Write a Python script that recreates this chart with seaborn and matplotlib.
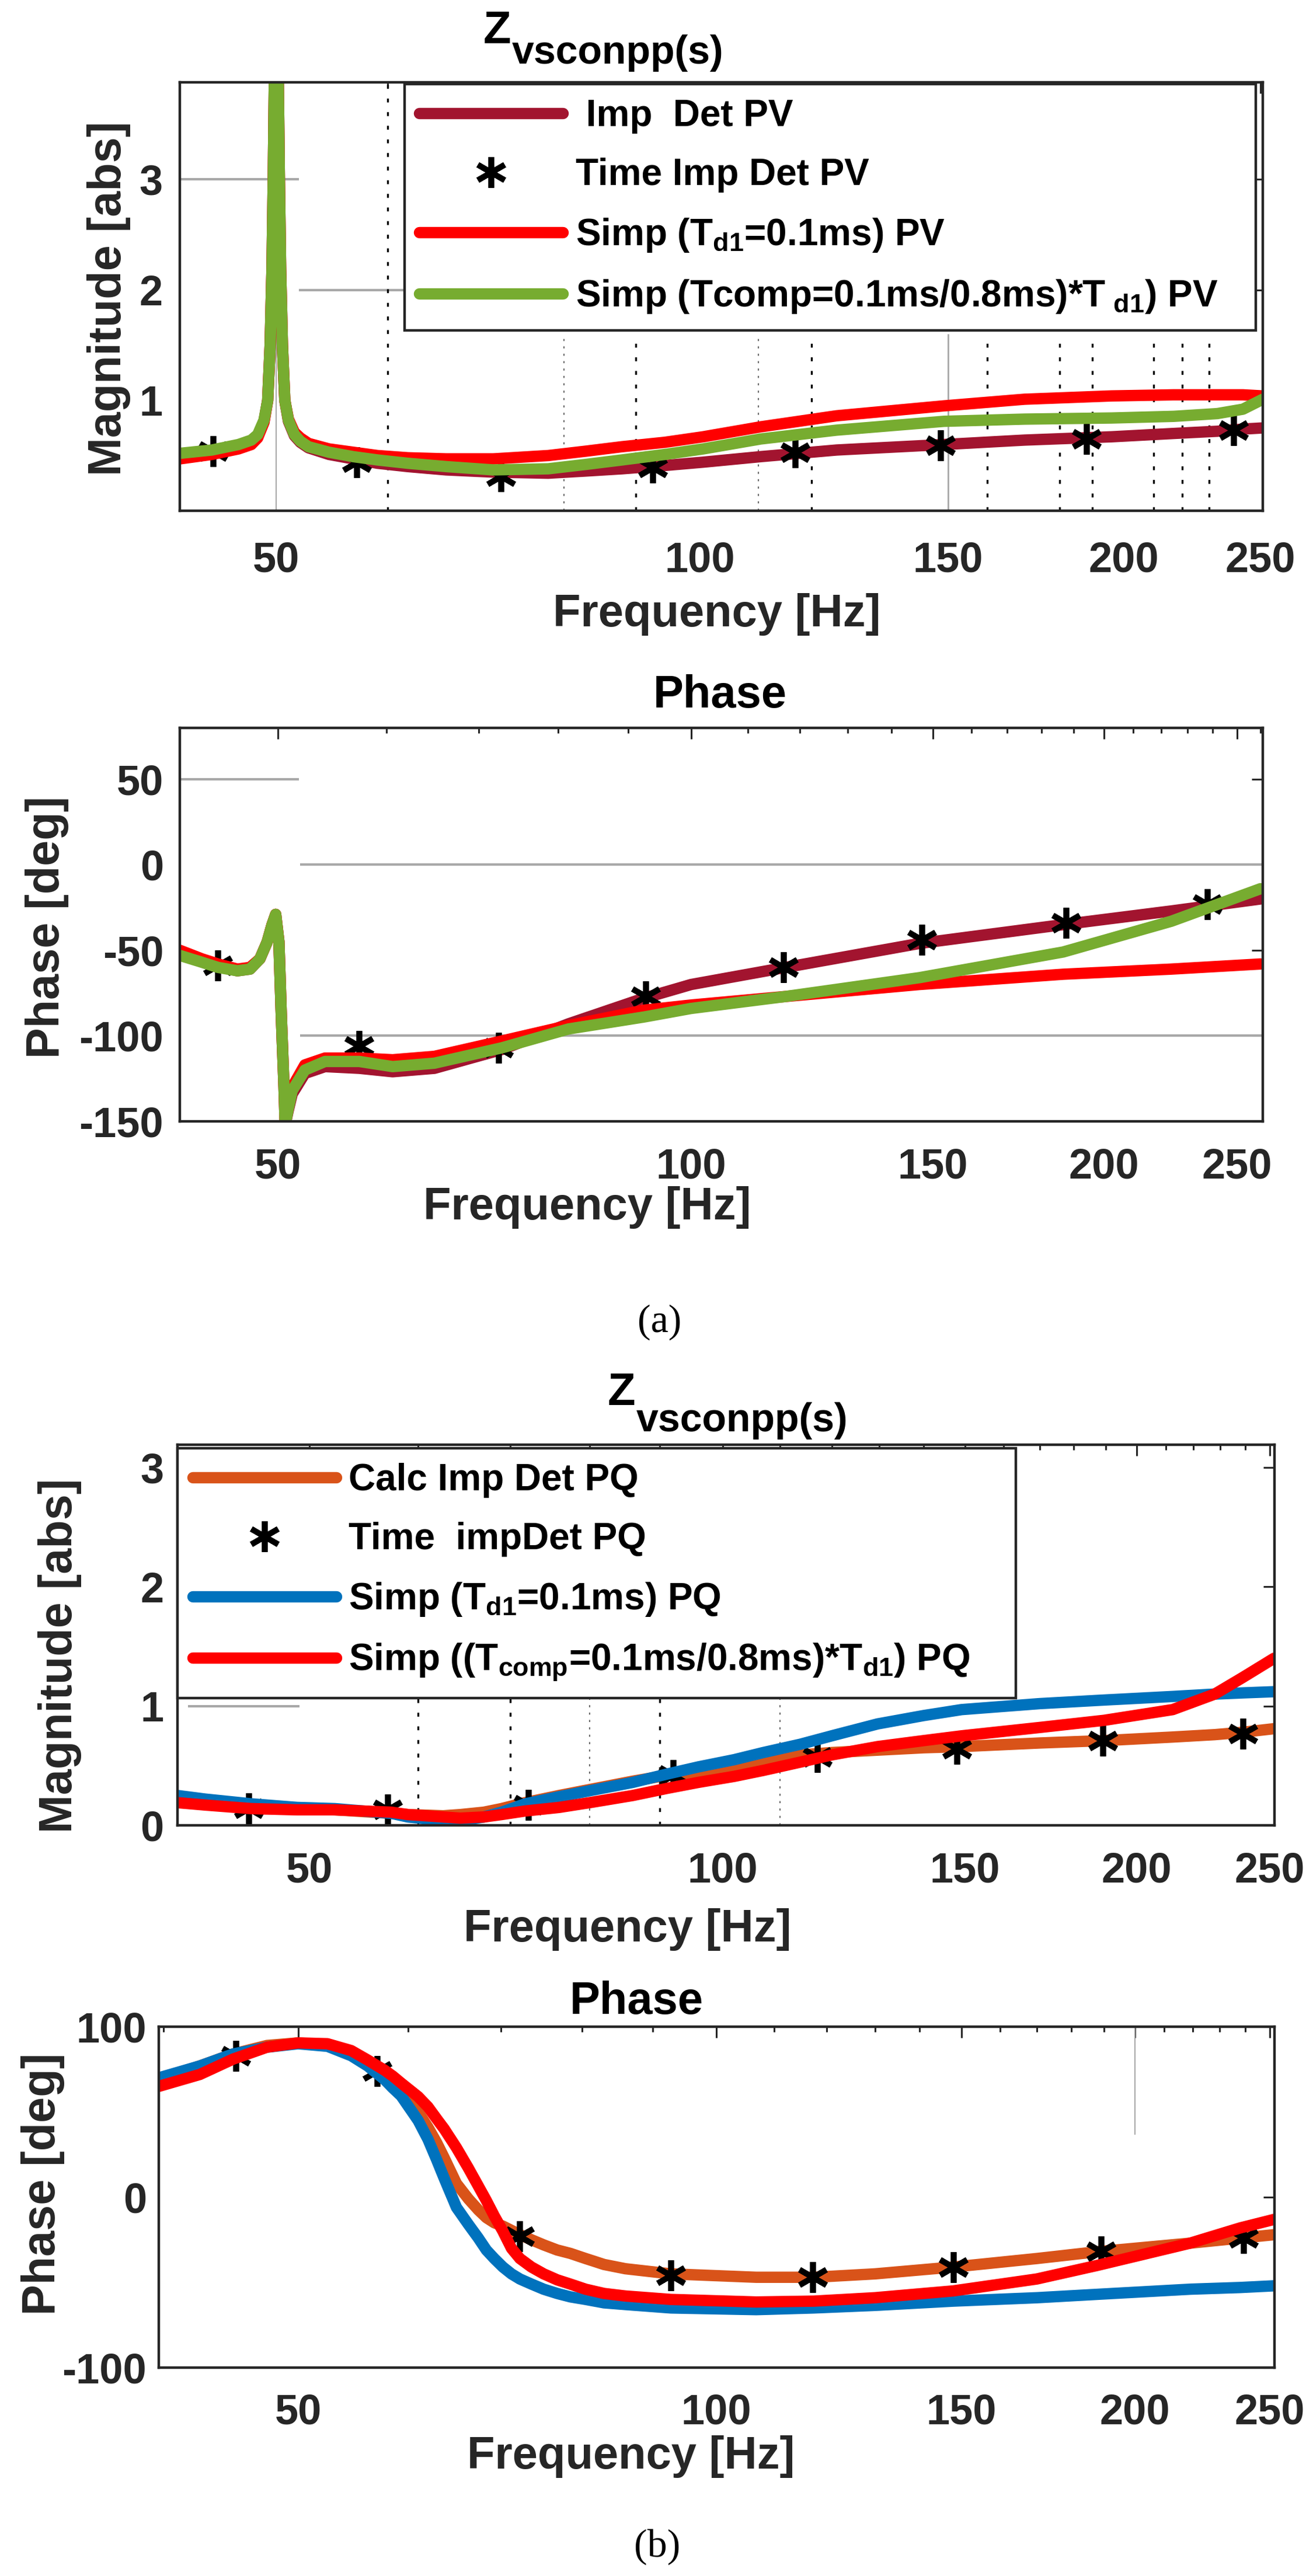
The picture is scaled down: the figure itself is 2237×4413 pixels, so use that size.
import matplotlib
matplotlib.use("Agg")
import matplotlib.pyplot as plt
from matplotlib.ticker import FixedLocator, FixedFormatter, NullFormatter
import seaborn as sns

# ---------------- (a) PV case : magnitude ----------------
freq_mag_a = [42.7, 45.0, 47.0, 48.0, 48.5, 49.0, 49.3, 49.5, 49.65, 49.75, 50.0, 50.25, 50.35,
              50.5, 50.7, 51.0, 51.5, 52.0, 52.7, 54.5, 56.7, 59.0, 62.0, 66.0, 71.3, 78.0, 83.0,
              88.0, 94.4, 100.5, 110.4, 125.0, 149.0, 170.0, 196.0, 217.0, 233.0, 243.0, 251.0]
mag_imp_pv = [0.51, 0.54, 0.59, 0.63, 0.68, 0.81, 1.00, 1.50, 2.20, 3.00, 5.50, 3.00, 2.20,
              1.50, 1.00, 0.81, 0.68, 0.62, 0.57, 0.51, 0.47, 0.43, 0.40, 0.37, 0.35, 0.34, 0.36,
              0.38, 0.41, 0.44, 0.49, 0.55, 0.60, 0.64, 0.67, 0.70, 0.72, 0.74, 0.75]
mag_simp_pv = [0.47, 0.51, 0.56, 0.60, 0.66, 0.80, 1.00, 1.50, 2.20, 3.00, 5.50, 3.00, 2.20,
               1.50, 1.00, 0.83, 0.71, 0.66, 0.61, 0.56, 0.53, 0.50, 0.48, 0.47, 0.47, 0.50, 0.54,
               0.58, 0.62, 0.67, 0.76, 0.86, 0.95, 1.01, 1.04, 1.05, 1.05, 1.05, 1.04]
mag_comp_pv = [0.52, 0.55, 0.60, 0.64, 0.69, 0.82, 1.00, 1.50, 2.20, 3.00, 5.50, 3.00, 2.20,
               1.50, 1.00, 0.82, 0.69, 0.63, 0.58, 0.53, 0.49, 0.46, 0.43, 0.40, 0.37, 0.38, 0.42,
               0.46, 0.51, 0.56, 0.65, 0.73, 0.81, 0.83, 0.84, 0.855, 0.88, 0.92, 1.01]
time_freq_a = [45.1, 57.0, 72.2, 92.5, 116.8, 148.2, 188.2, 239.3]
time_mag_a = [0.54, 0.44, 0.31, 0.39, 0.53, 0.59, 0.65, 0.73]

# ---------------- (a) PV case : phase ----------------
freq_ph_a = [42.4, 44.0, 45.2, 46.7, 47.7, 48.5, 49.1, 49.5, 49.8, 50.07, 50.28, 50.5, 50.6,
             50.85, 51.2, 52.3, 54.1, 57.3, 60.6, 65.0, 72.8, 81.4, 92.4, 100.0, 117.2, 146.7,
             186.7, 223.9, 260.0]
ph_imp_pv = [-52, -56, -59, -62, -61, -55, -45, -35, -29, -45, -90, -130, -152, -144, -134,
             -122, -118, -119, -121, -119, -108, -93, -78, -70, -60, -46, -35, -27, -20]
ph_simp_pv = [-50, -55, -58, -61, -60, -55, -45, -35, -29, -45, -90, -130, -152, -141, -130,
              -117, -113, -113, -114, -112, -103, -94, -85, -82, -77, -70, -64, -61, -58]
ph_comp_pv = [-53, -57, -60, -62, -61, -55, -45, -35, -29, -45, -90, -130, -152, -143, -132,
              -120, -115, -115, -118, -116, -107, -96, -89, -84, -77, -66, -51, -33, -14]
time_freq_pa = [45.2, 57.3, 72.4, 92.7, 116.8, 147.3, 187.6, 237.7]
time_ph_a = [-59, -106, -107, -77, -60, -44, -34, -23]

# ---------------- (b) PQ case : magnitude ----------------
freq_mag_b = [40.1, 42.0, 45.4, 49.0, 52.2, 57.4, 59.0, 62.6, 64.4, 67.0, 69.0, 71.8, 76.0,
              80.0, 86.0, 91.1, 96.0, 101.9, 107.0, 113.9, 120.0, 129.6, 140.0, 149.2, 170.0,
              189.4, 212.5, 228.0, 239.0, 251.8]
mag_calc_pq = [0.21, 0.19, 0.155, 0.14, 0.13, 0.10, 0.09, 0.08, 0.09, 0.11, 0.14, 0.19, 0.25,
               0.30, 0.37, 0.42, 0.44, 0.46, 0.52, 0.59, 0.61, 0.63, 0.65, 0.66, 0.69,
               0.71, 0.74, 0.76, 0.78, 0.81]
mag_simp_pq = [0.25, 0.22, 0.18, 0.15, 0.14, 0.10, 0.07, 0.04, 0.035, 0.07, 0.11, 0.18, 0.24,
               0.29, 0.36, 0.43, 0.49, 0.55, 0.61, 0.68, 0.75, 0.85, 0.92, 0.97, 1.02,
               1.05, 1.08, 1.10, 1.11, 1.12]
mag_comp_pq = [0.19, 0.17, 0.14, 0.13, 0.13, 0.11, 0.09, 0.07, 0.06, 0.07, 0.09, 0.12, 0.15,
               0.19, 0.25, 0.31, 0.36, 0.41, 0.46, 0.53, 0.59, 0.66, 0.71, 0.75, 0.82,
               0.88, 0.97, 1.10, 1.24, 1.40]
time_freq_b = [45.2, 57.0, 72.2, 92.0, 117.1, 148.0, 189.0, 239.0]
time_mag_b = [0.14, 0.13, 0.17, 0.42, 0.57, 0.64, 0.71, 0.77]

# ---------------- (b) PQ case : phase ----------------
freq_ph_b = [39.7, 42.5, 44.9, 47.5, 50.0, 52.5, 54.6, 56.1, 57.7, 58.5, 59.3, 61.0, 62.0, 62.9,
             63.7, 65.0, 66.3, 67.4, 68.3, 69.2, 70.2, 71.2, 72.2, 73.6, 75.1, 76.8, 78.5, 80.5,
             83.0, 86.0, 92.7, 106.8, 117.5, 130.0, 148.0, 170.0, 188.0, 219.1, 238.2, 252.0]
ph_calc_pq = [69, 77, 84, 89, 90.5, 89, 85, 80, 72, 68, 63, 50, 41, 32, 23, 8, -1, -7.5, -12,
              -15, -17, -19.5, -22, -25, -28, -31, -33, -36, -39.5, -42, -45, -47, -47, -45,
              -41, -36, -32, -27, -24, -22]
ph_simp_pq = [70, 77, 84, 88, 90, 88.5, 83, 77, 69, 64, 59.5, 45, 34, 22, 11, -6, -16, -24, -31,
              -36, -41, -45, -48, -51, -54, -56.5, -58.5, -60, -62, -63, -65, -66, -65, -63.5,
              -61, -59, -57, -54, -53, -52]
ph_comp_pq = [65, 72, 81, 88, 90.5, 90, 86, 80.5, 74.5, 71, 67, 59, 53, 46, 40, 29, 17, 6.5, -2,
              -11, -20, -30, -36, -41, -45, -48.5, -51, -54, -56.5, -58, -60, -61.5, -61, -59,
              -55, -48, -40, -27, -18, -13]
time_freq_pb = [45.1, 57.0, 72.2, 92.7, 117.3, 148.0, 189.0, 239.3]
time_ph_b = [83, 74, -23, -46, -47, -41, -32, -24]

major_x = [50, 100, 150, 200, 250]
minor_x = [40, 60, 70, 80, 90, 110, 120, 130, 140, 160, 170, 180, 190, 210, 220, 230, 240, 260]

c_imp = "#A2142F"
c_green = "#77AC30"
c_red = "#FF0000"
c_orange = "#D95319"
c_blue = "#0072BD"
c_axis = "#262626"
c_grid = "#a8a8a8"
LW = 14
STAR = (6, 2, 0)

sns.set_theme(style="white")
plt.rcParams["font.family"] = ["Liberation Sans", "DejaVu Sans"]
plt.rcParams["font.weight"] = "bold"
plt.rcParams["mathtext.fontset"] = "custom"
plt.rcParams["mathtext.rm"] = "Liberation Sans:bold"
plt.rcParams["mathtext.bf"] = "Liberation Sans:bold"
plt.rcParams["mathtext.it"] = "Liberation Sans:bold"
plt.rcParams["mathtext.default"] = "rm"

W, H = 2237, 4413
fig = plt.figure(figsize=(W / 100, H / 100), dpi=100)
fig.patch.set_facecolor("white")


def px_axes(left, right, top, bottom):
    return fig.add_axes([left / W, 1 - bottom / H, (right - left) / W, (bottom - top) / H])


def style(ax, xlim, ylim, yticks, xpad, ypad):
    ax.set_xscale("log")
    ax.set_xlim(xlim)
    ax.set_ylim(ylim)
    ax.xaxis.set_major_locator(FixedLocator(major_x))
    ax.xaxis.set_major_formatter(FixedFormatter([str(t) for t in major_x]))
    ax.xaxis.set_minor_locator(FixedLocator(minor_x))
    ax.xaxis.set_minor_formatter(NullFormatter())
    ax.set_yticks(yticks)
    ax.set_yticklabels([str(t) for t in yticks])
    ax.tick_params(which="both", direction="in", top=True, right=True,
                   color=c_axis, labelcolor=c_axis, width=2.2)
    ax.tick_params(which="major", length=14, labelsize=52)
    ax.tick_params(which="minor", length=6.5)
    ax.tick_params(axis="x", which="major", pad=xpad)
    ax.tick_params(axis="y", which="major", pad=ypad)
    for s in ax.spines.values():
        s.set_linewidth(3.2)
        s.set_color(c_axis)
        s.set_zorder(6)
    ax.set_facecolor("white")
    ax.grid(False)


def curve(ax, x, y, color, label, z):
    sns.lineplot(x=x, y=y, ax=ax, color=color, linewidth=LW, label=label,
                 legend=False, estimator=None, errorbar=None, zorder=z)


def stars(ax, x, y, label, z):
    sns.lineplot(x=x, y=y, ax=ax, color="black", linestyle="", marker=STAR, markersize=38,
                 markeredgewidth=7, markeredgecolor="black", markerfacecolor="black",
                 label=label, legend=False, estimator=None, errorbar=None, zorder=z)


def labels(ax, xl, xl_pos, yl, yl_pos):
    ax.set_xlabel(xl, fontsize=56, color=c_axis, fontweight="bold")
    ax.xaxis.set_label_coords(*xl_pos)
    ax.xaxis.label.set_va("baseline")
    ax.set_ylabel(yl, fontsize=57, color=c_axis, fontweight="bold")
    ax.yaxis.set_label_coords(*yl_pos)
    ax.yaxis.label.set_va("baseline")


def legend(ax, anchor, order):
    h, l = ax.get_legend_handles_labels()
    idx = [l.index(o) for o in order]
    leg = ax.legend([h[i] for i in idx], [l[i] for i in idx], loc="upper left",
                    bbox_to_anchor=anchor, mode="expand", borderaxespad=0, fontsize=46,
                    frameon=True, fancybox=False, framealpha=1, edgecolor=c_axis,
                    handlelength=3.85, handletextpad=0.33, labelspacing=0.64,
                    borderpad=0.4, numpoints=1)
    leg.get_frame().set_linewidth(3.2)
    leg.set_zorder(10)
    for t in leg.get_texts():
        t.set_color("black")


def dotted(ax, xs, lo, hi, light=False):
    if light:
        ax.vlines(xs, lo, hi, colors="#555555", linestyles=(0, (2, 5)), linewidth=1.3, zorder=1)
    else:
        ax.vlines(xs, lo, hi, colors="black", linestyles=(0, (2, 5)), linewidth=2.4, zorder=1)


# ---------------- panel 1 : |Z| PV ----------------
ax1 = px_axes(308, 2163, 141, 875)
ax1.hlines(3, 42.7, 51.9, colors=c_grid, linewidth=3, zorder=1)
ax1.hlines(2, 51.9, 62, colors=c_grid, linewidth=3, zorder=1)
ax1.vlines(50, 0, 3.88, colors=c_grid, linewidth=1.5, zorder=1)
ax1.vlines(150, 0, 1.6, colors=c_grid, linewidth=2, zorder=1)
dotted(ax1, [60], 0, 3.88)
dotted(ax1, [90, 120, 160, 180, 190, 210, 220, 230], 0, 1.6)
dotted(ax1, [80, 110], 0, 1.6, light=True)
l1 = " Imp  Det PV"
l2 = "Time Imp Det PV"
l3 = "Simp (T$_{d1}$=0.1ms) PV"
l4 = "Simp (Tcomp=0.1ms/0.8ms)*T$_{\\ d1}$) PV"
curve(ax1, freq_mag_a, mag_imp_pv, c_imp, l1, 2)
stars(ax1, time_freq_a, time_mag_a, l2, 3)
curve(ax1, freq_mag_a, mag_simp_pv, c_red, l3, 4)
curve(ax1, freq_mag_a, mag_comp_pv, c_green, l4, 5)
style(ax1, (42.7, 251), (0, 3.88), [1, 2, 3], 37, 21)
labels(ax1, "Frequency [Hz]", (0.496, -0.270), "Magnitude [abs]", (-0.0544, 0.496))
ax1.text(0.280, 1.091, "Z", fontsize=56, transform=ax1.transAxes, ha="left", va="baseline",
         color="black")
ax1.text(0.3067, 1.0436, "vsconpp(s)", fontsize=49, transform=ax1.transAxes, ha="left",
         va="baseline", color="black")
legend(ax1, (0.2075, 0.413, 0.786, 0.583), [l1, l2, l3, l4])

# ---------------- panel 2 : phase PV ----------------
ax2 = px_axes(308, 2163, 1247, 1921)
ax2.hlines(50, 42.4, 51.8, colors=c_grid, linewidth=3, zorder=1)
ax2.hlines([0, -100], 51.9, 261, colors=c_grid, linewidth=3, zorder=1)
curve(ax2, freq_ph_a, ph_imp_pv, c_imp, l1, 2)
stars(ax2, time_freq_pa, time_ph_a, l2, 3)
curve(ax2, freq_ph_a, ph_simp_pv, c_red, l3, 4)
curve(ax2, freq_ph_a, ph_comp_pv, c_green, l4, 5)
style(ax2, (42.4, 261), (-150, 80), [-150, -100, -50, 0, 50], 32, 20)
labels(ax2, "Frequency [Hz]", (0.376, -0.249), "Phase [deg]", (-0.1116, 0.494))
ax2.text(0.4987, 1.052, "Phase", fontsize=56, transform=ax2.transAxes, ha="center",
         va="baseline", color="black")

fig.text(0.505, 0.483, "(a)", fontsize=49, family="Liberation Serif", fontweight="normal",
         ha="center", va="baseline", color="black")

# ---------------- panel 3 : |Z| PQ ----------------
ax3 = px_axes(304, 2183, 2475, 3127)
ax3.hlines(1, 40.8, 49.2, colors=c_grid, linewidth=3, zorder=1)
dotted(ax3, [60, 70, 90], 0, 1.2)
dotted(ax3, [80, 110], 0, 1.2, light=True)
m1 = "Calc Imp Det PQ"
m2 = "Time  impDet PQ"
m3 = "Simp (T$_{d1}$=0.1ms) PQ"
m4 = "Simp ((T$_{comp}$=0.1ms/0.8ms)*T$_{d1}$) PQ"
curve(ax3, freq_mag_b, mag_calc_pq, c_orange, m1, 2)
stars(ax3, time_freq_b, time_mag_b, m2, 3)
curve(ax3, freq_mag_b, mag_simp_pq, c_blue, m3, 4)
curve(ax3, freq_mag_b, mag_comp_pq, c_red, m4, 5)
style(ax3, (40.1, 252), (0, 3.19), [0, 1, 2, 3], 32, 17)
labels(ax3, "Frequency [Hz]", (0.410, -0.305), "Magnitude [abs]", (-0.0963, 0.446))
ax3.text(0.392, 1.104, "Z", fontsize=56, transform=ax3.transAxes, ha="left", va="baseline",
         color="black")
ax3.text(0.418, 1.035, "vsconpp(s)", fontsize=49, transform=ax3.transAxes, ha="left",
         va="baseline", color="black")
legend(ax3, (0.0, 0.351, 0.764, 0.640), [m1, m2, m3, m4])

# ---------------- panel 4 : phase PQ ----------------
ax4 = px_axes(272, 2183, 3472, 4056)
ax4.vlines(200, 36.5, 100, colors=c_grid, linewidth=1.5, zorder=1)
curve(ax4, freq_ph_b, ph_calc_pq, c_orange, m1, 2)
stars(ax4, time_freq_pb, time_ph_b, m2, 3)
curve(ax4, freq_ph_b, ph_simp_pq, c_blue, m3, 4)
curve(ax4, freq_ph_b, ph_comp_pq, c_red, m4, 5)
style(ax4, (39.7, 252), (-100, 100), [-100, 0, 100], 31, 15)
labels(ax4, "Frequency [Hz]", (0.423, -0.296), "Phase [deg]", (-0.0931, 0.538))
ax4.text(0.428, 1.038, "Phase", fontsize=56, transform=ax4.transAxes, ha="center",
         va="baseline", color="black")

fig.text(0.503, 0.0075, "(b)", fontsize=49, family="Liberation Serif", fontweight="normal",
         ha="center", va="baseline", color="black")

fig.savefig("out.png", dpi=100, facecolor="white")
